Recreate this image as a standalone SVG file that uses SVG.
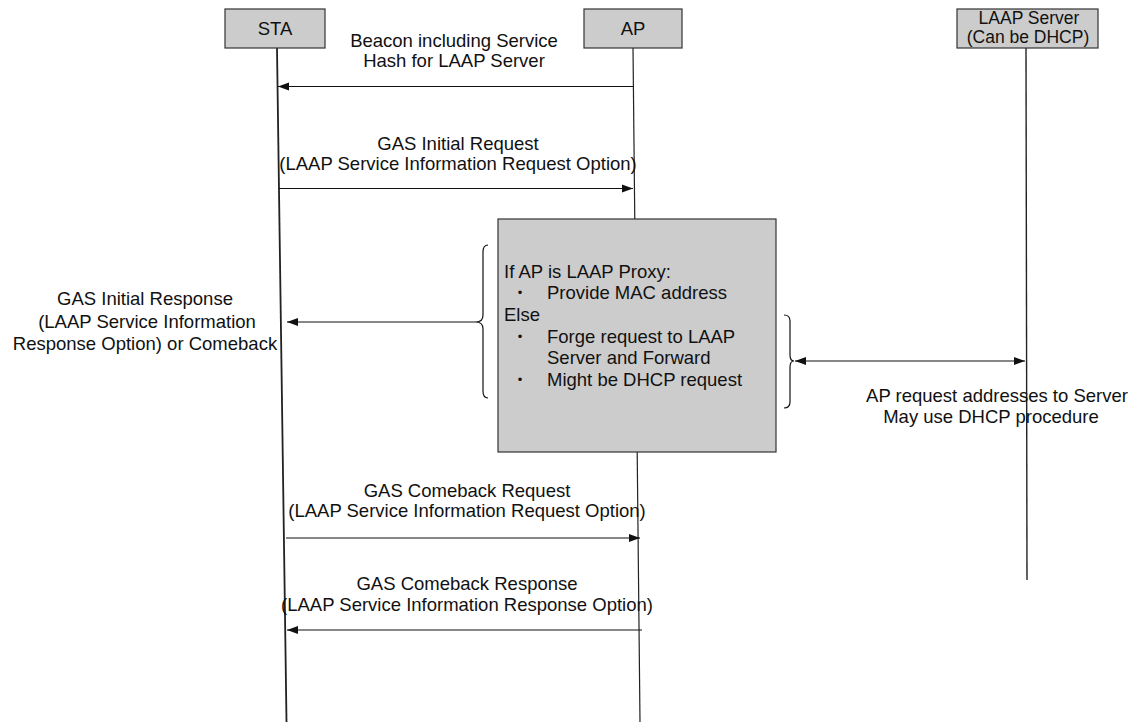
<svg xmlns="http://www.w3.org/2000/svg" width="1137" height="722" viewBox="0 0 1137 722">
  <style>
    .lbl { font-family: "Liberation Sans", Arial, Helvetica, sans-serif; font-size: 18.5px; fill: #111; }
    .mid { text-anchor: middle; }
    .small { font-size: 17.5px; }
    .bullet { font-family: "Liberation Sans", Arial, Helvetica, sans-serif; font-size: 13px; fill: #111; text-anchor: middle; }
    .box { fill: #cccccc; stroke: #333; stroke-width: 1.2; }
    .life { fill: none; stroke: #222; }
    .msg { fill: none; stroke: #111; stroke-width: 1.2; }
    .brace { fill: none; stroke: #111; stroke-width: 1.2; }
  </style>
  <defs>
    <marker id="arrow" markerUnits="userSpaceOnUse" markerWidth="12" markerHeight="10" refX="11" refY="5" orient="auto-start-reverse">
      <path d="M0,1 L11,5 L0,9 Z" fill="#111"/>
    </marker>
  </defs>

  <rect width="1137" height="722" fill="#ffffff"/>

  <!-- lifelines -->
  <g id="lifelines">
    <line class="life" x1="277" y1="48" x2="286.5" y2="722" stroke-width="1.8"/>
    <line class="life" x1="633" y1="48" x2="640" y2="722" stroke-width="1.2"/>
    <line class="life" x1="1026" y1="48" x2="1027" y2="580" stroke-width="1.4" stroke="#444"/>
  </g>

  <!-- participants -->
  <g id="sta">
    <rect class="box" x="225" y="9" width="100" height="39"/>
    <text class="lbl mid" x="275" y="35">STA</text>
  </g>
  <g id="ap">
    <rect class="box" x="584" y="9" width="98" height="39"/>
    <text class="lbl mid" x="633" y="35">AP</text>
  </g>
  <g id="laap-server">
    <rect class="box" x="957" y="9" width="141" height="39"/>
    <text class="lbl mid small" x="1029" y="24">LAAP Server</text>
    <text class="lbl mid small" x="1028" y="42.5">(Can be DHCP)</text>
  </g>

  <!-- AP processing block -->
  <g id="ap-process">
    <rect class="box" x="498" y="219" width="278" height="233"/>
    <text class="lbl" x="504" y="278">If AP is LAAP Proxy:</text>
    <text class="bullet" x="520" y="296.5">•</text>
    <text class="lbl" x="547" y="299">Provide MAC address</text>
    <text class="lbl" x="504" y="321">Else</text>
    <text class="bullet" x="520" y="340.5">•</text>
    <text class="lbl" x="547" y="343">Forge request to LAAP</text>
    <text class="lbl" x="547" y="364">Server and Forward</text>
    <text class="bullet" x="520" y="383.5">•</text>
    <text class="lbl" x="547" y="386">Might be DHCP request</text>
  </g>

  <!-- messages -->
  <g id="connectors">
    <line class="msg" x1="633" y1="86.5" x2="278" y2="86.5" marker-end="url(#arrow)"/>
    <line class="msg" x1="279" y1="188.5" x2="633" y2="188.5" marker-end="url(#arrow)"/>
    <path class="brace" d="M488,245 Q483,245 483,252 L483,315 Q483,322 476,322 Q483,322 483,329 L483,391 Q483,398 488,398"/>
    <line class="msg" x1="476" y1="322" x2="287" y2="322" marker-end="url(#arrow)"/>
    <path class="brace" d="M784,315 Q790,315 790,321 L790,355 Q790,361 794,361 Q790,361 790,367 L790,402 Q790,408 784,408"/>
    <line class="msg" x1="795" y1="361" x2="1025" y2="361" marker-start="url(#arrow)" marker-end="url(#arrow)"/>
    <line class="msg" x1="286" y1="538" x2="640" y2="538" marker-end="url(#arrow)"/>
    <line class="msg" x1="642" y1="630" x2="287" y2="630" marker-end="url(#arrow)"/>
  </g>

  <!-- message labels -->
  <g id="labels">
    <text class="lbl mid" x="454" y="47">Beacon including Service</text>
    <text class="lbl mid" x="454" y="67">Hash for LAAP Server</text>

    <text class="lbl mid" x="458" y="150">GAS Initial Request</text>
    <text class="lbl mid" x="458" y="170">(LAAP Service Information Request Option)</text>

    <text class="lbl mid" x="145" y="305">GAS Initial Response</text>
    <text class="lbl mid" x="147" y="328">(LAAP Service Information</text>
    <text class="lbl mid" x="145" y="350">Response Option) or Comeback</text>

    <text class="lbl mid" x="997" y="402">AP request addresses to Server</text>
    <text class="lbl mid" x="991" y="423">May use DHCP procedure</text>

    <text class="lbl mid" x="467" y="497">GAS Comeback Request</text>
    <text class="lbl mid" x="467" y="517">(LAAP Service Information Request Option)</text>

    <text class="lbl mid" x="467" y="590">GAS Comeback Response</text>
    <text class="lbl mid" x="467" y="611">(LAAP Service Information Response Option)</text>
  </g>
</svg>
